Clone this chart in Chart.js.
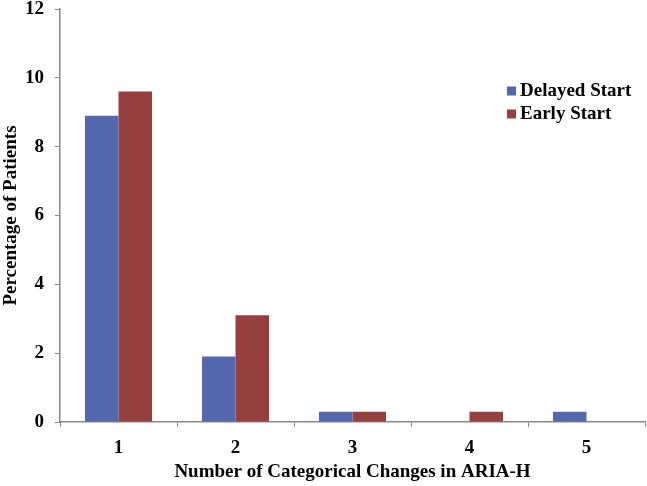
<!DOCTYPE html>
<html>
<head>
<meta charset="utf-8">
<script src="https://cdn.jsdelivr.net/npm/chart.js@4/dist/chart.umd.min.js"></script>
<style>
html,body{margin:0;padding:0;background:#fff;}
#wrap{position:relative;width:647px;height:486px;}
</style>
</head>
<body>
<div id="wrap"><canvas id="c" width="647" height="486"></canvas></div>
<script>
const categories = ['1', '2', '3', '4', '5'];
const delayedStart = [8.9, 1.9, 0.3, 0, 0.3];
const earlyStart = [9.6, 3.1, 0.3, 0.3, 0];
const seriesNames = ['Delayed Start', 'Early Start'];
const seriesColors = ['#5568ad', '#953f3e'];
const yTicks = [0, 2, 4, 6, 8, 10, 12];
const xTitle = 'Number of Categorical Changes in ARIA-H';
const yTitle = 'Percentage of Patients';

const FONT = "'Liberation Serif', 'Times New Roman', serif";

const legendPlugin = {
  id: 'insideLegend',
  afterDraw(chart) {
    const ctx = chart.ctx;
    ctx.save();
    ctx.font = 'bold 19px ' + FONT;
    ctx.textBaseline = 'middle';
    ctx.textAlign = 'left';
    chart.data.datasets.forEach((ds, i) => {
      const y = 91 + i * 23;
      ctx.fillStyle = ds.backgroundColor;
      ctx.fillRect(507, y - 4.5, 9, 9);
      ctx.fillStyle = '#000';
      ctx.fillText(ds.label, 520, y);
    });
    ctx.restore();
  }
};

new Chart(document.getElementById('c'), {
  type: 'bar',
  data: {
    labels: categories,
    datasets: [
      { label: seriesNames[0], data: delayedStart, backgroundColor: seriesColors[0], borderWidth: 0 },
      { label: seriesNames[1], data: earlyStart, backgroundColor: seriesColors[1], borderWidth: 0 }
    ]
  },
  options: {
    responsive: false,
    animation: false,
    devicePixelRatio: 1,
    layout: { padding: { top: 9, right: 2, left: 0, bottom: 0 } },
    datasets: { bar: { categoryPercentage: 0.573, barPercentage: 1.0 } },
    plugins: { legend: { display: false }, tooltip: { enabled: false } },
    scales: {
      x: {
        grid: { display: true, drawOnChartArea: false, drawTicks: true, tickLength: 5, color: '#888', offset: true },
        border: { display: true, color: '#888', width: 1.5 },
        ticks: { color: '#000', font: { family: FONT, size: 19, weight: 'bold' }, padding: 10 },
        title: { display: true, text: xTitle, color: '#000', font: { family: FONT, size: 19, weight: 'bold' }, padding: { top: 6, bottom: 3 } },
        afterFit(scale) { scale.height = 64; scale.paddingLeft = 0; scale.paddingRight = 0; }
      },
      y: {
        min: 0, max: 12,
        afterBuildTicks(scale) { scale.ticks = yTicks.map(v => ({ value: v })); },
        grid: { display: true, drawOnChartArea: false, drawTicks: true, tickLength: 5, color: '#888' },
        border: { display: true, color: '#888', width: 1.5 },
        ticks: { color: '#000', font: { family: FONT, size: 19, weight: 'bold' }, padding: 11 },
        title: { display: true, text: yTitle, color: '#000', font: { family: FONT, size: 19, weight: 'bold' }, padding: { top: 0, bottom: 2 } },
        afterFit(scale) { scale.width = 60; scale.paddingTop = 0; scale.paddingBottom = 0; }
      }
    }
  },
  plugins: [legendPlugin]
});
</script>
</body>
</html>
